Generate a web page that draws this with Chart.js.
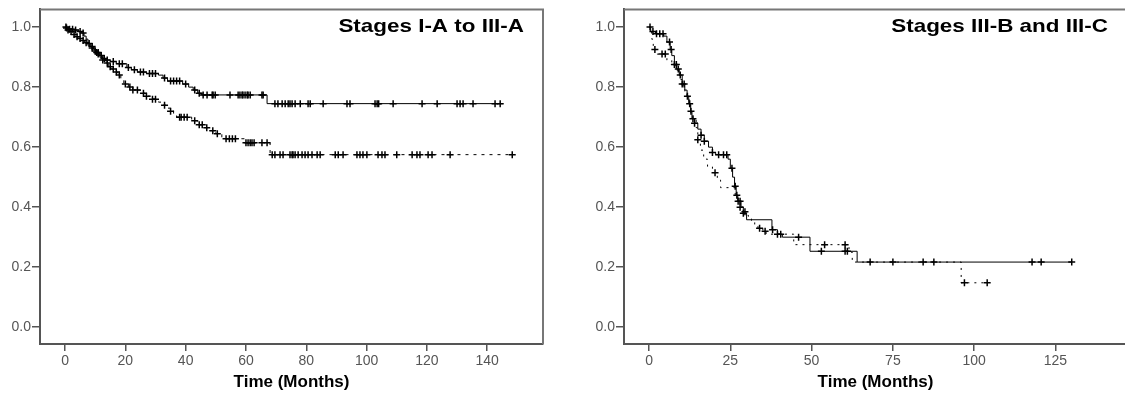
<!DOCTYPE html>
<html>
<head>
<meta charset="utf-8">
<script src="https://cdn.jsdelivr.net/npm/chart.js@4.4.1/dist/chart.umd.min.js"></script>
<style>
  body { margin: 0; background: #fff; width: 1125px; height: 395px; overflow: hidden; position: relative; }
  #left { position: absolute; left: 0; top: 0; }
  #right { position: absolute; left: 565px; top: 0; }
</style>
</head>
<body>
<canvas id="left" width="560" height="395"></canvas>
<canvas id="right" width="580" height="395"></canvas>
<script>
// ---- data ----
const yTicks = [0, 0.2, 0.4, 0.6, 0.8, 1.0];
const leftXTicks = [0, 20, 40, 60, 80, 100, 120, 140];
const rightXTicks = [0, 25, 50, 75, 100, 125];

// Stages I-A to III-A, solid curve
const leftSolidT = [0, 0.5, 1.5, 3, 4.5, 5.5, 6.3, 7, 7.6, 8.5, 9.5, 10.5, 11.5, 12.5, 13.5, 15, 17, 20.5, 22, 24, 27, 31, 32.5, 34, 39, 41, 42.5, 44, 45.3, 67];
const leftSolidS = [1.0, 0.997, 0.993, 0.99, 0.985, 0.98, 0.97, 0.96, 0.945, 0.935, 0.925, 0.915, 0.905, 0.895, 0.89, 0.885, 0.878, 0.865, 0.858, 0.85, 0.845, 0.84, 0.83, 0.82, 0.81, 0.80, 0.79, 0.78, 0.774, 0.745];
const leftSolidEnd = 145.3;
const leftSolidCens = [0.5, 1.5, 2.5, 3.5, 5, 6, 8, 9, 10.5, 11, 12, 13, 14, 16, 18, 19, 21, 23, 25, 26, 28, 29, 30, 33, 35, 36, 37, 38, 40, 43, 44.5,
  45.8, 47.1, 48.8, 49.1, 49.8, 54.7, 57.4, 58, 58.7, 59, 59.7, 60.4, 60.7, 61.4, 65.3, 65.7,
  69.6, 70.6, 72, 73, 74, 74.6, 75.3, 76.3, 78, 80.6, 81.3, 85.6, 93.5, 94.5, 102.8, 103.5, 104, 108.8, 118.4, 123.4, 130, 131, 132, 135.3, 142.6, 144.3];

// Stages I-A to III-A, dashed curve
const leftDashT = [0, 0.5, 1.5, 2.5, 3.5, 4.5, 5.5, 6.5, 7.5, 8.5, 9.5, 10.5, 11.5, 12.5, 13.5, 14.5, 15.5, 16.5, 17.5, 18.5, 19.5, 21, 22.5, 25, 26.5, 28.5, 31, 32.5, 34, 35, 36, 37, 42, 44, 46, 48, 50, 52, 59.5, 68];
const leftDashS = [1.0, 0.99, 0.985, 0.975, 0.968, 0.962, 0.955, 0.948, 0.94, 0.93, 0.92, 0.91, 0.9, 0.89, 0.88, 0.868, 0.86, 0.85, 0.84, 0.825, 0.81, 0.80, 0.79, 0.78, 0.77, 0.76, 0.75, 0.74, 0.73, 0.72, 0.71, 0.70, 0.688, 0.675, 0.665, 0.655, 0.645, 0.628, 0.615, 0.575];
const leftDashEnd = 148.3;
const leftDashCens = [0.3, 1, 2, 3, 4, 5, 6, 7, 9, 10, 11, 12.5, 14, 15, 16, 17, 18, 20, 21.5, 22.5, 24, 26, 27, 29, 30, 33, 35, 38, 38.5, 39.5, 40.5, 43, 44.5, 45.5, 47, 49, 50.5,
  53.4, 54.5, 55.5, 56.5, 60, 60.7, 61.4, 62, 62.7, 65.3, 67,
  68.7, 69.6, 71.3, 72.3, 74.6, 75.3, 75.6, 76.3, 77.3, 78.6, 79.6, 80.6, 81.9, 83.6, 84.6, 89.6, 90.6, 92.2, 96.8, 97.8, 98.8, 100.1,
  103.8, 105.1, 106.1, 110, 115.1, 116.7, 117.7, 120.4, 121.7, 127.7, 148.3];

// Stages III-B and III-C, solid curve
const rightSolidT = [0, 0.5, 2, 4.5, 5.5, 6.5, 7, 7.8, 8.5, 9.3, 10.2, 11, 11.7, 12.2, 12.8, 13.2, 14, 15, 16, 17, 18.3, 19.5, 20.5, 24.3, 25, 25.7, 26.3, 26.8, 27.3, 28.3, 29, 30, 37.8, 39.5, 41, 49.5, 64];
const rightSolidS = [1.0, 0.985, 0.978, 0.97, 0.95, 0.925, 0.905, 0.875, 0.86, 0.84, 0.81, 0.79, 0.77, 0.745, 0.72, 0.695, 0.68, 0.66, 0.64, 0.62, 0.60, 0.582, 0.575, 0.56, 0.53, 0.50, 0.47, 0.44, 0.42, 0.40, 0.38, 0.358, 0.325, 0.31, 0.30, 0.253, 0.217];
const rightSolidEnd = 130;
const rightSolidCens = [0.3, 1.2, 2.3, 3.3, 4.3, 6.3, 6.8, 7.8, 8.4, 9, 9.6, 10.2, 10.8, 11.8, 12.5, 12.9, 13.5, 14, 16, 17, 19.5, 21.4, 22.9, 23.9, 25.5, 26.5, 27.4, 28, 29,
  38, 39.5, 40.5, 46, 53, 60.3, 61, 68, 117.8, 120.6, 130];

// Stages III-B and III-C, dotted curve
const rightDotT = [0, 0.8, 1.3, 2.5, 5.5, 7, 8, 8.7, 9.4, 10.2, 11, 11.7, 12.3, 12.8, 13.5, 14.5, 15, 15.8, 16.8, 18, 19.5, 21, 22, 26.5, 27.3, 28, 29, 30.5, 31.5, 32.5, 33.5, 35, 36, 44.5, 61.5, 62.5, 96];
const rightDotS = [1.0, 0.96, 0.925, 0.91, 0.89, 0.875, 0.86, 0.845, 0.825, 0.805, 0.785, 0.76, 0.74, 0.715, 0.69, 0.665, 0.625, 0.59, 0.56, 0.535, 0.515, 0.49, 0.465, 0.44, 0.415, 0.40, 0.385, 0.37, 0.355, 0.34, 0.33, 0.32, 0.31, 0.275, 0.25, 0.217, 0.148];
const rightDotEnd = 104;
const rightDotCens = [1.8, 4, 5, 15, 20.3, 27, 28, 29.5, 34, 35.7, 54, 60.3, 75, 84.3, 87.6, 97, 104];

// ---- helpers ----
const FONT = 'Arial, "Liberation Sans", sans-serif';

function survAt(times, surv, t) {
  let s = surv[0];
  for (let i = 0; i < times.length; i++) if (times[i] <= t) s = surv[i];
  return s;
}
function curve(times, surv, end) {
  const pts = times.map((t, i) => ({x: t, y: surv[i]}));
  pts.push({x: end, y: surv[surv.length - 1]});
  return pts;
}
function marks(times, surv, cens) {
  return cens.map(t => ({x: t, y: survAt(times, surv, t)}));
}

const framePlugin = {
  id: 'frame',
  afterDraw(chart) {
    const {ctx, chartArea: a} = chart;
    ctx.save();
    ctx.strokeStyle = '#777';
    ctx.lineWidth = 2;
    ctx.beginPath();
    ctx.moveTo(a.left, a.top);
    ctx.lineTo(a.right, a.top);
    ctx.lineTo(a.right, a.bottom);
    ctx.stroke();
    const txt = chart.options.plugins.frame.text;
    ctx.fillStyle = '#000';
    ctx.font = 'bold 19px ' + FONT;
    ctx.textAlign = 'right';
    ctx.textBaseline = 'alphabetic';
    ctx.translate(a.right - 19, a.top + 23);
    ctx.scale(1.18, 1);
    ctx.fillText(txt, 0, 0);
    ctx.restore();
  }
};

function kmChart(id, o) {
  const ctx = document.getElementById(id).getContext('2d');
  new Chart(ctx, {
    type: 'line',
    data: {
      datasets: [
        {data: curve(o.aT, o.aS, o.aEnd), stepped: true, borderColor: '#000', borderWidth: 1, pointRadius: 0, fill: false},
        {data: curve(o.bT, o.bS, o.bEnd), stepped: true, borderColor: '#000', borderWidth: 1, borderDash: o.dash, pointRadius: 0, fill: false},
        {data: marks(o.aT, o.aS, o.aCens), showLine: false, pointStyle: 'cross', pointRadius: 3.5, pointBorderWidth: 1.5, pointBorderColor: '#000'},
        {data: marks(o.bT, o.bS, o.bCens), showLine: false, pointStyle: 'cross', pointRadius: 3.5, pointBorderWidth: 1.5, pointBorderColor: '#000'}
      ]
    },
    options: {
      responsive: false,
      animation: false,
      events: [],
      layout: {padding: {left: 0, right: o.padRight, top: 5, bottom: 0}},
      plugins: {legend: {display: false}, tooltip: {enabled: false}, frame: {text: o.title}},
      scales: {
        x: {
          type: 'linear', min: o.xMin, max: o.xMax,
          afterBuildTicks: s => { s.ticks = o.xTicks.map(v => ({value: v})); },
          afterFit: s => { s.height = 51; },
          grid: {drawOnChartArea: false, drawTicks: true, tickLength: 7, color: '#555', lineWidth: 1.5},
          border: {color: '#555', width: 2},
          ticks: {color: '#555', padding: 2, font: {size: 14, family: FONT}, callback: v => v},
          title: {display: true, text: 'Time (Months)', color: '#000', font: {size: 17, weight: 'bold', family: FONT}, padding: {top: 0, bottom: 2}}
        },
        y: {
          type: 'linear', min: -0.056, max: 1.059,
          afterBuildTicks: s => { s.ticks = yTicks.map(v => ({value: v})); },
          afterFit: s => { s.width = o.yWidth; },
          grid: {drawOnChartArea: false, drawTicks: true, tickLength: 8, color: '#555', lineWidth: 1.5},
          border: {color: '#555', width: 2},
          ticks: {color: '#555', padding: 1, font: {size: 14, family: FONT}, callback: v => v.toFixed(1)}
        }
      }
    },
    plugins: [framePlugin]
  });
}

kmChart('left', {
  title: 'Stages I-A to III-A', xTicks: leftXTicks, xMin: -8.3, xMax: 158.5, yWidth: 40, padRight: 17,
  aT: leftSolidT, aS: leftSolidS, aEnd: leftSolidEnd, aCens: leftSolidCens,
  bT: leftDashT, bS: leftDashS, bEnd: leftDashEnd, bCens: leftDashCens, dash: [3, 5]
});
kmChart('right', {
  title: 'Stages III-B and III-C', xTicks: rightXTicks, xMin: -7.7, xMax: 147, yWidth: 59, padRight: 18,
  aT: rightSolidT, aS: rightSolidS, aEnd: rightSolidEnd, aCens: rightSolidCens,
  bT: rightDotT, bS: rightDotS, bEnd: rightDotEnd, bCens: rightDotCens, dash: [2, 5]
});
</script>
</body>
</html>
